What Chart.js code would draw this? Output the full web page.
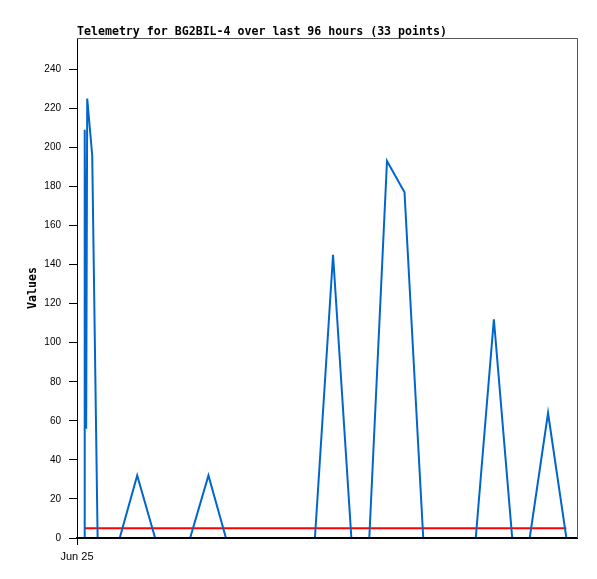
<!DOCTYPE html>
<html>
<head>
<meta charset="utf-8">
<script src="https://cdn.jsdelivr.net/npm/chart.js@4.4.1/dist/chart.umd.min.js"></script>
<style>
  body { margin: 0; background: #fff; }
  #wrap { width: 597px; height: 579px; }
</style>
</head>
<body>
<div id="wrap"><canvas id="chart" width="597" height="579"></canvas></div>
<script>
// hours after Jun 25 00:00
const times = [0.35, 0.37, 0.44, 0.49, 0.73, 0.99, 1.52, 2.05, 2.89, 3.75, 4.59,
  5.43, 6.31, 7.15, 8.01, 8.86, 9.71, 10.57, 11.42, 12.29, 13.17, 14.03,
  14.88, 15.72, 16.62, 17.46, 18.30, 19.14, 20.01, 20.89, 21.73, 22.61, 23.49];
const values = [0, 209, 56, 225, 196, 0, 0, 0, 32, 0, 0,
  0, 32, 0, 0, 0, 0, 0, 0, 145, 0, 0,
  193, 177, 0, 0, 0, 0, 112, 0, 0, 64, 0];
const threshold = 5;
const yTicks = [0, 20, 40, 60, 80, 100, 120, 140, 160, 180, 200, 220, 240];
const xTicks = [0];
const xTickLabels = ['Jun 25'];
const titleText = 'Telemetry for BG2BIL-4 over last 96 hours (33 points)';

const monoBold = { family: '"DejaVu Sans Mono", monospace', size: 11.6, weight: 'bold' };
const sans = { family: '"Liberation Sans", Arial, sans-serif', size: 10 };

const series = times.map((t, i) => ({ x: t, y: values[i] }));
const thresholdLine = [
  { x: times[0], y: threshold },
  { x: times[times.length - 1], y: threshold }
];

// title at the plot's left edge, grey frame on top/right
const framePlugin = {
  id: 'frame',
  afterDraw(chart) {
    const { ctx, chartArea: a } = chart;
    ctx.save();
    ctx.strokeStyle = '#555';
    ctx.lineWidth = 1;
    ctx.beginPath();
    ctx.moveTo(a.left, a.top + 0.5);
    ctx.lineTo(a.right + 0.5, a.top + 0.5);
    ctx.lineTo(a.right + 0.5, a.bottom);
    ctx.stroke();
    ctx.fillStyle = '#000';
    ctx.font = `bold ${monoBold.size}px ${monoBold.family}`;
    ctx.textBaseline = 'middle';
    ctx.fillText(titleText, a.left, 31.5);
    ctx.restore();
  }
};

new Chart(document.getElementById('chart'), {
  type: 'line',
  data: {
    datasets: [
      {
        data: series,
        borderColor: '#0066cc',
        borderWidth: 2,
        pointRadius: 0,
        tension: 0,
        order: 1
      },
      {
        data: thresholdLine,
        borderColor: '#ff0000',
        borderWidth: 2,
        pointRadius: 0,
        order: 2
      }
    ]
  },
  options: {
    responsive: false,
    animation: false,
    layout: { padding: { top: 38, right: 20, left: 0, bottom: 0 } },
    plugins: { legend: { display: false }, tooltip: { enabled: false }, title: { display: false } },
    scales: {
      x: {
        type: 'linear',
        min: 0,
        max: 24,
        afterBuildTicks: s => { s.ticks = xTicks.map(v => ({ value: v })); },
        afterFit: s => { s.height = 41; },
        ticks: {
          autoSkip: false,
          maxRotation: 0,
          padding: 5,
          color: '#000',
          font: { family: sans.family, size: 11 },
          callback: v => xTickLabels[xTicks.indexOf(v)] || ''
        },
        grid: { drawOnChartArea: false, tickLength: 7, color: '#000' },
        border: { color: '#000', width: 2, z: 1 }
      },
      y: {
        min: 0,
        max: 256,
        afterBuildTicks: s => { s.ticks = yTicks.map(v => ({ value: v })); },
        afterFit: s => { s.width = 77; },
        ticks: { padding: 8, color: '#000', font: sans },
        grid: { drawOnChartArea: false, tickLength: 8, color: '#000' },
        border: { color: '#000', width: 1 },
        title: {
          display: true,
          text: 'Values',
          color: '#000',
          font: monoBold,
          padding: { top: 26, bottom: 0 }
        }
      }
    }
  },
  plugins: [framePlugin]
});
</script>
</body>
</html>
